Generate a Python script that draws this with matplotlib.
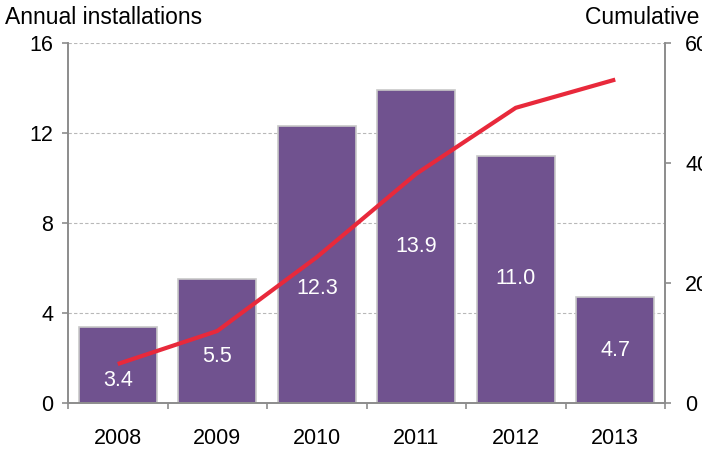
import matplotlib
matplotlib.use("Agg")
import matplotlib.pyplot as plt
import numpy as np

plt.rcParams['font.family'] = ['Liberation Sans', 'DejaVu Sans']

years = ["2008", "2009", "2010", "2011", "2012", "2013"]
annual = [3.4, 5.5, 12.3, 13.9, 11.0, 4.7]
cumulative = [6.5, 12.0, 24.3, 38.2, 49.2, 53.9]
label_y = [1.0, 2.05, 5.1, 6.95, 5.55, 2.35]
left_ticks = [0, 4, 8, 12, 16]
right_ticks = [0, 20, 40, 60]

bar_color = "#70528f"
line_color = "#e8293b"
spine_color = "#8c8c8c"
fs = 15.5

fig = plt.figure(figsize=(7.02, 4.5), dpi=100)
ax = fig.add_axes([68/702, 1-403/450, (665-68)/702, 360/450])
x = np.arange(len(years))

ax.bar(x, annual, width=0.78, color=bar_color, edgecolor="#c8c8c8", linewidth=1.2, zorder=2)
for xi, v, ly in zip(x, annual, label_y):
    ax.text(xi, ly, f"{v:.1f}", color="white", ha="center", va="center", fontsize=fs, zorder=5)

ax.set_xlim(-0.5, len(years) - 0.5)
ax.set_ylim(0, 16)
ax.set_yticks(left_ticks)
ax.set_yticklabels([str(t) for t in left_ticks], fontsize=fs)
ax.set_xticks(x)
ax.set_xticklabels(years, fontsize=fs)
ax.set_xticks(np.arange(-0.5, len(years), 1.0), minor=True)
ax.tick_params(axis="x", which="major", length=0, pad=18)
ax.tick_params(axis="x", which="minor", length=4.5, color=spine_color, width=1.2)
ax.tick_params(axis="y", length=4.5, color=spine_color, width=1.2, pad=6)
ax.yaxis.grid(True, linestyle=(0, (3, 2)), color="#b8b8b8", linewidth=0.8, zorder=0)
ax.set_axisbelow(True)
ax.spines["top"].set_visible(False)
for s in ["left", "bottom", "right"]:
    ax.spines[s].set_color(spine_color)
    ax.spines[s].set_linewidth(1.2)

ax2 = ax.twinx()
ax2.plot(x, cumulative, color=line_color, linewidth=3.0, solid_capstyle="butt", zorder=4)
ax2.set_ylim(0, 60)
ax2.set_yticks(right_ticks)
ax2.set_yticklabels([str(t) for t in right_ticks], fontsize=fs)
ax2.tick_params(axis="y", length=4.5, color=spine_color, width=1.2, pad=10)
ax2.spines["top"].set_visible(False)
for s in ["left", "bottom", "right"]:
    ax2.spines[s].set_color(spine_color)
    ax2.spines[s].set_linewidth(1.2)

fig.text(5/702, 1-18/450, "Annual installations", fontsize=16.5, va="center", ha="left")
fig.text(585/702, 1-18/450, "Cumulative installations", fontsize=16.5, va="center", ha="left")

fig.savefig("out.png", dpi=100)
